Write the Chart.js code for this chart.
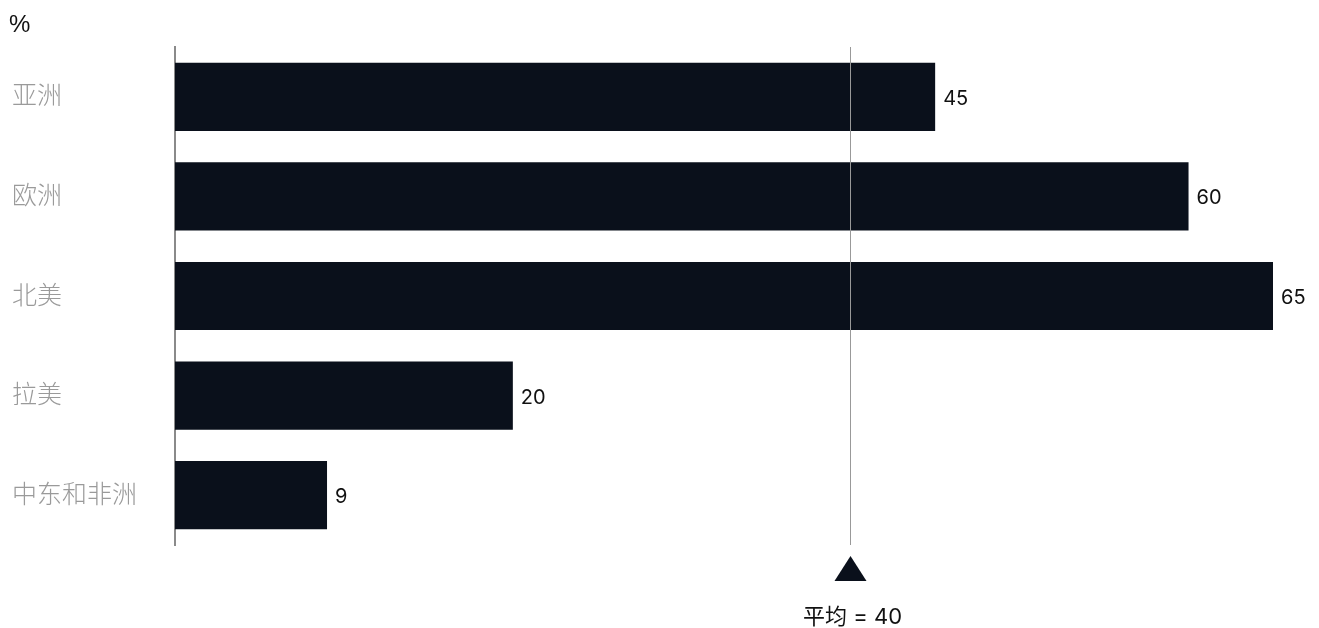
<!DOCTYPE html>
<html>
<head>
<meta charset="utf-8">
<script src="https://cdn.jsdelivr.net/npm/chart.js"></script>
<style>
  body { margin: 0; background: #fff; }
  #wrap { width: 1319px; height: 628px; position: relative; }
</style>
</head>
<body>
<div id="wrap"><canvas id="myChart"></canvas></div>
<script>
// categories and values
const regions = ['亚洲', '欧洲', '北美', '拉美', '中东和非洲'];
const shares = [45, 60, 65, 20, 9];
const average = 40;
const averageLabel = '平均 = 40';
const unitLabel = '%';

const fontFam = "Inter, 'Noto Sans CJK SC', sans-serif";
const barColor = '#0a101b';

// value labels, average marker and unit
const extras = {
    id: 'extras',
    afterDatasetsDraw(chart) {
        const ctx = chart.ctx;
        const area = chart.chartArea;
        const xs = chart.scales.x;
        const meta = chart.getDatasetMeta(0);

        ctx.save();
        ctx.font = '20px ' + fontFam;
        ctx.fillStyle = '#111';
        ctx.textAlign = 'left';
        ctx.textBaseline = 'middle';
        meta.data.forEach(function (bar, i) {
            ctx.fillText(String(shares[i]), bar.x + 8, bar.y + 2);
        });

        // average line
        const ax = Math.round(xs.getPixelForValue(average)) - 0.5;
        ctx.strokeStyle = '#999999';
        ctx.lineWidth = 1;
        ctx.beginPath();
        ctx.moveTo(ax, area.top);
        ctx.lineTo(ax, area.bottom);
        ctx.stroke();

        // triangle
        ctx.fillStyle = barColor;
        ctx.beginPath();
        ctx.moveTo(ax, area.bottom + 11);
        ctx.lineTo(ax - 16, area.bottom + 36);
        ctx.lineTo(ax + 16, area.bottom + 36);
        ctx.closePath();
        ctx.fill();

        ctx.fillStyle = '#111';
        ctx.textAlign = 'center';
        ctx.font = '22px ' + fontFam;
        ctx.fillText(averageLabel, ax + 2, area.bottom + 72);

        ctx.textAlign = 'left';
        ctx.font = "24px 'Liberation Sans', sans-serif";
        ctx.fillText(unitLabel, 9, 25);
        ctx.restore();
    }
};

const data = {
    labels: regions,
    datasets: [{
        data: shares,
        backgroundColor: barColor,
        borderWidth: 0,
        barPercentage: 0.685,
        categoryPercentage: 1
    }]
};

const config = {
    type: 'bar',
    data: data,
    options: {
        indexAxis: 'y',
        responsive: true,
        maintainAspectRatio: false,
        animation: false,
        layout: { padding: { left: 12, top: 47, right: 46, bottom: 83 } },
        plugins: {
            legend: { display: false },
            tooltip: { enabled: false }
        },
        scales: {
            x: {
                display: false,
                min: 0,
                max: 65
            },
            y: {
                afterFit: function (scale) { scale.width = 163; },
                grid: { display: false, drawTicks: false },
                border: { display: true, color: '#8a8a8a', width: 2 },
                ticks: {
                    crossAlign: 'far',
                    color: '#9a9a9a',
                    font: { family: fontFam, size: 25, weight: 300 }
                }
            }
        }
    },
    plugins: [extras]
};

const myChart = new Chart(document.getElementById('myChart'), config);
</script>
</body>
</html>
